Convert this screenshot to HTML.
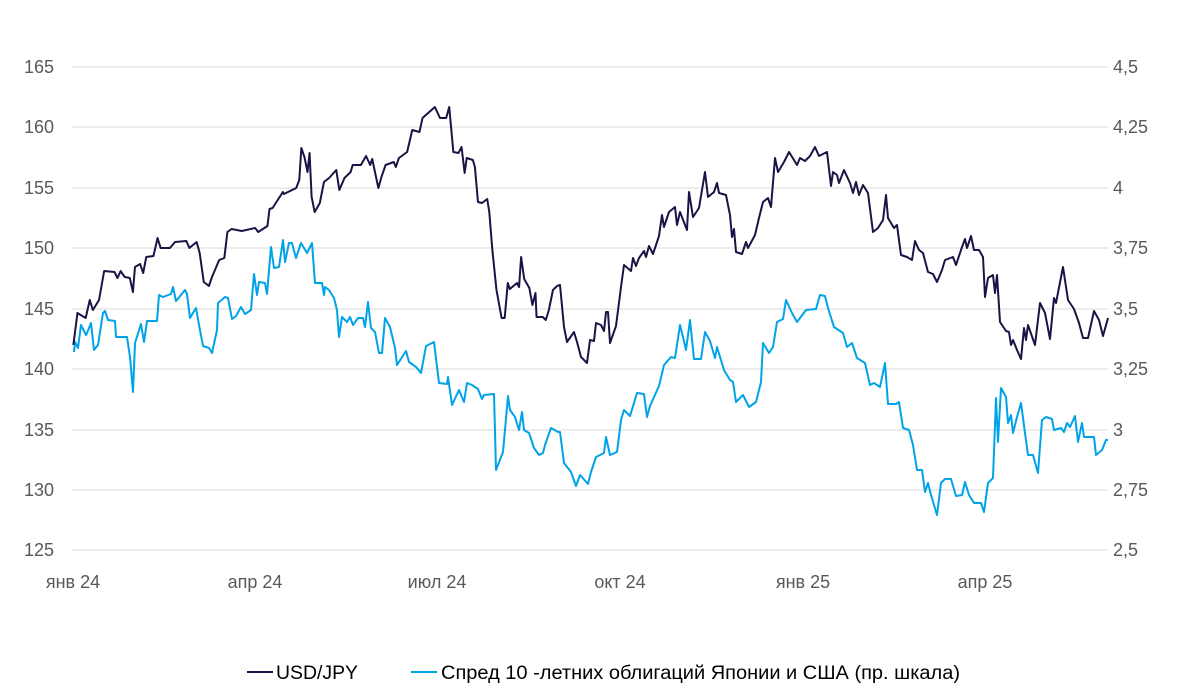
<!DOCTYPE html>
<html><head><meta charset="utf-8"><style>
body{margin:0;background:#fff;}
svg{display:block;font-family:"Liberation Sans",sans-serif;}
.t{fill:#595959;font-size:18px;}
</style></head><body>
<svg width="1200" height="694" viewBox="0 0 1200 694">
<g stroke="#d9d9d9" stroke-width="1">
<line x1="72" y1="67" x2="1108" y2="67"/><line x1="72" y1="127" x2="1108" y2="127"/>
<line x1="72" y1="188" x2="1108" y2="188"/><line x1="72" y1="248" x2="1108" y2="248"/>
<line x1="72" y1="309" x2="1108" y2="309"/><line x1="72" y1="369" x2="1108" y2="369"/>
<line x1="72" y1="430" x2="1108" y2="430"/><line x1="72" y1="490" x2="1108" y2="490"/>
<line x1="72" y1="550" x2="1108" y2="550"/>
</g>
<g class="t" text-anchor="end">
<text x="54" y="73">165</text><text x="54" y="133">160</text><text x="54" y="194">155</text>
<text x="54" y="254">150</text><text x="54" y="315">145</text><text x="54" y="375">140</text>
<text x="54" y="436">135</text><text x="54" y="496">130</text><text x="54" y="556">125</text>
</g>
<g class="t">
<text x="1113" y="73">4,5</text><text x="1113" y="133">4,25</text><text x="1113" y="194">4</text>
<text x="1113" y="254">3,75</text><text x="1113" y="315">3,5</text><text x="1113" y="375">3,25</text>
<text x="1113" y="436">3</text><text x="1113" y="496">2,75</text><text x="1113" y="556">2,5</text>
</g>
<g class="t" text-anchor="middle">
<text x="73" y="588">янв 24</text><text x="255" y="588">апр 24</text><text x="437" y="588">июл 24</text>
<text x="620" y="588">окт 24</text><text x="803" y="588">янв 25</text><text x="985" y="588">апр 25</text>
</g>
<g fill="none" stroke-width="2" stroke-linejoin="round">
<polyline stroke="#00a3e8" points="74,352 75,342 78,348 81,325 86,335 87,333 91,323 94,350 98,345 103,313 105,311 108,320 115,321 116,337 127,337 130,357 133,392 135,343 141,324 144,342 147,321 157,321 159,295 163,297 171,294 173,287 176,301 185,290 187,294 190,318 196,308 199,325 203,346 209,348 212,353 217,330 218,303 225,297 228,298 232,319 236,316 241,307 245,314 251,310 254,274 257,295 259,282 265,283 267,294 271,247 274,268 279,267 283,240 285,262 289,243 292,243 296,258 301,243 307,253 312,243 315,283 322,283 324,295 325,287 329,290 334,298 337,310 339,337 342,317 347,322 350,317 353,325 358,318 363,318 365,327 368,302 371,328 375,332 379,353 382,353 385,318 390,327 395,348 397,365 406,351 409,362 416,367 421,373 426,346 434,342 439,383 447,384 448,377 452,405 459,390 464,402 467,383 472,385 478,389 482,399 484,395 494,394 496,470 503,452 508,396 510,410 515,417 519,430 522,412 524,430 529,433 534,448 539,455 543,453 545,445 551,428 558,432 560,432 564,463 571,472 576,486 580,475 588,484 591,472 596,457 604,453 606,437 610,455 617,452 621,420 624,410 630,416 637,393 644,394 647,417 650,406 659,386 664,365 671,357 675,358 680,325 683,337 686,350 690,320 694,359 701,359 705,332 710,341 715,358 717,347 724,370 730,380 733,382 736,402 743,395 749,407 756,402 761,382 763,343 769,353 773,347 777,322 783,319 786,300 792,313 797,322 806,310 816,309 820,295 825,296 828,308 834,327 843,333 847,347 852,343 857,358 865,363 870,385 874,383 880,387 885,363 888,404 896,404 899,402 903,428 909,430 913,445 917,470 922,470 925,492 928,483 931,495 937,515 941,483 945,479 951,479 956,496 962,495 965,482 969,495 974,503 981,503 984,512 988,483 993,478 996,398 998,442 1001,388 1006,397 1008,423 1011,415 1013,433 1017,417 1021,403 1025,433 1028,455 1033,455 1038,473 1042,420 1046,417 1052,419 1054,430 1061,428 1064,432 1067,423 1070,427 1075,416 1078,442 1082,423 1084,437 1094,437 1096,455 1102,450 1106,440 1108,440"/>
<g transform="translate(60,0) scale(1.027,1) translate(-60,0)">
<polyline stroke="#1a1446" vector-effect="non-scaling-stroke" points="73,345 77,313 85,318 89,300 92,310 98,300 103,271 113,272 116,278 119,271 123,277 128,278 131,292 133,267 138,264 141,273 144,257 151,256 155,238 158,248 167,248 172,242 183,241 186,248 193,242 196,253 200,282 205,286 208,277 215,260 220,258 223,232 227,229 237,231 250,228 253,232 262,226 264,209 267,208 277,192 278,194 290,188 293,180 295,148 298,157 301,172 303,153 305,197 308,212 313,203 317,182 322,178 329,170 332,190 337,178 343,172 345,165 353,165 358,156 362,165 364,159 370,188 373,177 377,165 385,162 387,167 390,158 398,152 403,130 410,132 413,118 425,107 430,118 436,118 439,107 443,152 448,153 451,147 454,173 456,158 462,160 464,167 467,202 471,203 476,199 478,212 481,250 485,290 490,318 493,318 496,283 498,289 505,283 507,287 509,257 512,279 517,288 520,305 523,293 524,317 530,317 533,320 536,310 540,290 544,286"/>
</g>
<polyline stroke="#1a1446" points="557,286 560,285 564,327 567,342 574,332 577,342 581,357 587,363 590,340 594,341 596,323 601,325 604,331 606,312 608,312 610,343 616,326 621,287 624,265 631,271 633,258 636,266 639,258 644,251 646,257 649,246 653,254 659,236 662,215 664,227 669,212 675,207 677,225 680,212 687,230 689,192 693,217 699,208 705,172 708,197 714,192 717,183 719,193 726,195 730,215 732,237 734,229 736,252 742,254 746,242 748,248 755,235 759,218 763,202 768,198 771,207 775,158 778,172 784,162 789,152 794,160 797,165 800,158 805,161 810,156 815,147 819,156 827,152 831,186 833,172 837,175 839,183 844,170 850,183 853,193 856,182 859,195 863,185 868,193 873,232 878,228 883,220 886,195 888,218 894,228 897,225 901,255 907,257 912,260 915,241 919,250 923,253 928,272 933,274 937,282 942,270 945,260 953,257 956,265 962,247 965,239 967,248 971,236 974,250 979,250 983,257 985,297 988,278 993,275 995,293 997,275 1000,322 1006,331 1009,332 1011,345 1013,340 1017,350 1021,359 1024,328 1026,340 1028,325 1035,345 1040,303 1045,313 1050,339 1054,298 1056,303 1063,267 1068,300 1074,309 1079,323 1083,338 1088,338 1094,311 1099,320 1103,336 1108,318"/>
</g>
<line x1="247" y1="672" x2="273" y2="672" stroke="#1a1446" stroke-width="2"/>
<text x="276" y="679" font-size="19" fill="#000" textLength="82" lengthAdjust="spacingAndGlyphs">USD/JPY</text>
<line x1="411" y1="672" x2="437" y2="672" stroke="#00a3e8" stroke-width="2"/>
<text x="441" y="679" font-size="19" fill="#000" textLength="519" lengthAdjust="spacingAndGlyphs">Спред 10 -летних облигаций Японии и США (пр. шкала)</text>
</svg>
</body></html>
